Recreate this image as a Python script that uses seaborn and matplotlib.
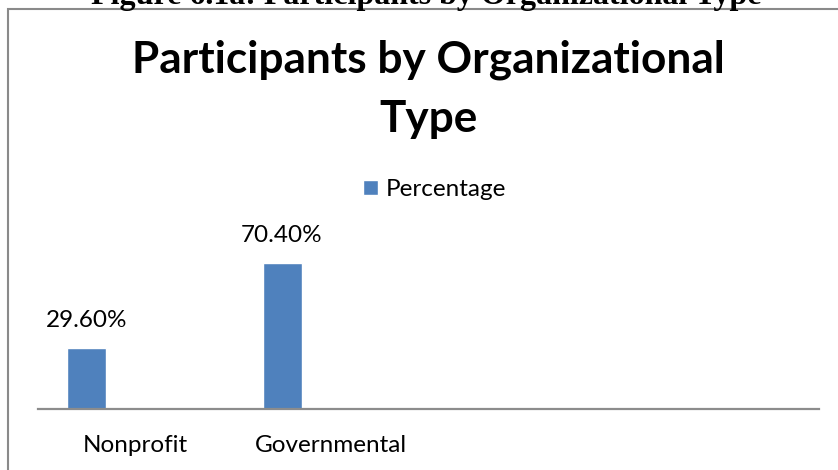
import matplotlib
matplotlib.use("Agg")
import matplotlib.pyplot as plt
from matplotlib.patches import Rectangle
import seaborn as sns
import pandas as pd

# Chart data
categories = ["Nonprofit", "Governmental"]
percentages = [29.60, 70.40]
series_name = "Percentage"
title_lines = ["Participants by Organizational", "Type"]
caption = "Figure 6.1a: Participants by Organizational Type"

BAR_COLOR = "#4F81BD"
AXIS_GRAY = "#8C8C8C"
FONT = ["Lato", "DejaVu Sans"]
LABEL_SIZE = 17.5

sns.set_theme(style="white")
plt.rcParams["font.family"] = FONT
plt.rcParams["text.color"] = "black"

W, H = 838, 470
fig = plt.figure(figsize=(W / 100, H / 100), dpi=100)
fig.patch.set_facecolor("white")


def fx(px):
    return px / W


def fy(py):
    return 1 - py / H


# Plot area: baseline at y=409 px, spanning x 38..819 px
ax = fig.add_axes([fx(38), fy(409), fx(819) - fx(38), (409 - 243) / H])

df = pd.DataFrame({"category": categories, "value": percentages})
sns.barplot(data=df, x="category", y="value", color=BAR_COLOR, width=0.2,
            saturation=1, label=series_name, ax=ax)

# four category slots, only the first two filled; labels sit in the slot centre
ax.set_xlim(-0.25, 3.75)
ax.set_ylim(0, 80)
ax.set_xticks([i + 0.25 for i in range(len(categories))])
ax.set_xticklabels(categories, fontsize=LABEL_SIZE)
ax.tick_params(axis="x", length=0, pad=19, colors="black")
ax.set_yticks([])
ax.set_xlabel("")
ax.set_ylabel("")
ax.set_facecolor("none")
for side in ["top", "left", "right"]:
    ax.spines[side].set_visible(False)
ax.spines["bottom"].set_color(AXIS_GRAY)
ax.spines["bottom"].set_linewidth(1.6)

for container in ax.containers:
    ax.bar_label(container, labels=[f"{v:.2f}%" for v in percentages],
                 padding=12, fontsize=LABEL_SIZE, color="black")

leg = ax.legend(loc="center left", bbox_to_anchor=(fx(363), fy(189.5)),
                bbox_transform=fig.transFigure, frameon=False,
                fontsize=LABEL_SIZE, handlelength=0.62, handleheight=0.62,
                handletextpad=0.33, borderpad=0, borderaxespad=0)
for t in leg.get_texts():
    t.set_color("black")

# Chart title (bold, two lines)
fig.text(fx(428), fy(73), title_lines[0], ha="center", va="baseline",
         fontsize=31.8, fontweight="bold", color="black")
fig.text(fx(428), fy(132), title_lines[1], ha="center", va="baseline",
         fontsize=31.8, fontweight="bold", color="black")

# Chart border (extends past the right and bottom edges)
fig.add_artist(Rectangle((fx(8), fy(500)), fx(900), (500 - 9) / H,
                         transform=fig.transFigure, fill=False,
                         edgecolor="#8A8A8A", linewidth=1.5))

# Document caption above the chart
fig.text(fx(426), fy(4), caption, ha="center", va="baseline",
         fontsize=23, fontweight="bold", color="black",
         family=["Liberation Serif", "DejaVu Serif"])

fig.savefig("out.png", dpi=100, facecolor="white")
